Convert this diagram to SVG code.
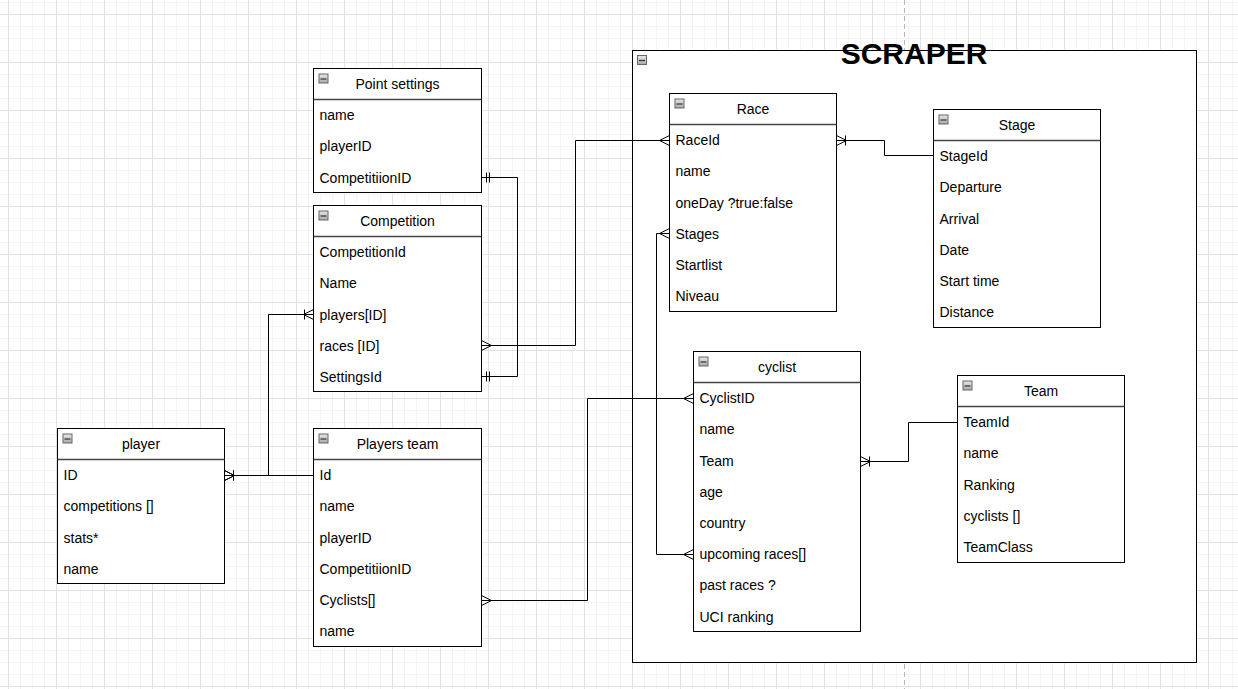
<svg xmlns="http://www.w3.org/2000/svg" width="1238" height="689" viewBox="0 0 1238 689">
<style>
.box{fill:#fff;stroke:#000;stroke-width:1}
.sep{stroke:#444;stroke-width:1.5}
.hd{font-family:"Liberation Sans",Arial,sans-serif;font-size:14px;fill:#000;text-anchor:middle}
.rw{font-family:"Liberation Sans",Arial,sans-serif;font-size:14px;fill:#000}
.edge{fill:none;stroke:#000;stroke-width:1}
.ttl{font-family:"Liberation Sans",Arial,sans-serif;font-size:30px;font-weight:bold;fill:#000;text-anchor:middle}
</style>
<defs>
<pattern id="grid" x="8" y="14" width="48" height="48" patternUnits="userSpaceOnUse">
<path d="M12.5,0V48M24.5,0V48M36.5,0V48M0,12.5H48M0,24.5H48M0,36.5H48" stroke="#f4f4f4" stroke-width="1"/>
<path d="M0.5,0V48M0,0.5H48" stroke="#e2e2e2" stroke-width="1"/>
</pattern>
<linearGradient id="mg" x1="0" y1="0" x2="0" y2="1"><stop offset="0" stop-color="#e8e8e8"/><stop offset="1" stop-color="#a8a8a8"/></linearGradient>
<symbol id="minus" overflow="visible"><rect x="0.5" y="0.5" width="9" height="9" fill="url(#mg)" stroke="#666"/><path d="M2,5.5H8" stroke="#333" stroke-width="1.2"/></symbol>
<marker id="many" markerUnits="userSpaceOnUse" markerWidth="12" markerHeight="12" refX="10" refY="6" orient="auto-start-reverse" overflow="visible"><path d="M0,6L10,1M0,6L10,11" fill="none" stroke="#000" stroke-width="1"/></marker>
<marker id="onemany" markerUnits="userSpaceOnUse" markerWidth="12" markerHeight="12" refX="10" refY="6" orient="auto-start-reverse" overflow="visible"><path d="M0,6L10,1M0,6L10,11M1,1V11" fill="none" stroke="#000" stroke-width="1"/></marker>
<marker id="mandone" markerUnits="userSpaceOnUse" markerWidth="12" markerHeight="12" refX="10" refY="6" orient="auto-start-reverse" overflow="visible"><path d="M5,1V11M2,1V11" fill="none" stroke="#000" stroke-width="1"/></marker>
</defs>
<rect width="1238" height="689" fill="#fff"/>
<rect width="1238" height="689" fill="url(#grid)"/>
<line x1="904.5" y1="0" x2="904.5" y2="689" stroke="#b8b8b8" stroke-dasharray="5,3"/>

<g id="scraper">
<rect class="box" x="632.5" y="50.5" width="564" height="612"/>
<use href="#minus" x="637" y="55"/>
<text class="ttl" x="914" y="64">SCRAPER</text>
</g>

<g id="point-settings" transform="translate(313.5,68.5)">
<rect class="box" width="168" height="124"/><line class="sep" x1="0" y1="31" x2="168" y2="31"/>
<use href="#minus" x="5" y="5"/>
<text class="hd" x="84" y="20.5">Point settings</text>
<text class="rw" x="6" y="51.6">name</text>
<text class="rw" x="6" y="82.8">playerID</text>
<text class="rw" x="6" y="114">CompetitiionID</text>
</g>

<g id="competition" transform="translate(313.5,205.5)">
<rect class="box" width="168" height="186"/><line class="sep" x1="0" y1="31" x2="168" y2="31"/>
<use href="#minus" x="5" y="5"/>
<text class="hd" x="84" y="20.5">Competition</text>
<text class="rw" x="6" y="51.6">CompetitionId</text>
<text class="rw" x="6" y="82.8">Name</text>
<text class="rw" x="6" y="114">players[ID]</text>
<text class="rw" x="6" y="145.2">races [ID]</text>
<text class="rw" x="6" y="176.4">SettingsId</text>
</g>

<g id="players-team" transform="translate(313.5,428.5)">
<rect class="box" width="168" height="218"/><line class="sep" x1="0" y1="31" x2="168" y2="31"/>
<use href="#minus" x="5" y="5"/>
<text class="hd" x="84" y="20.5">Players team</text>
<text class="rw" x="6" y="51.6">Id</text>
<text class="rw" x="6" y="82.8">name</text>
<text class="rw" x="6" y="114">playerID</text>
<text class="rw" x="6" y="145.2">CompetitiionID</text>
<text class="rw" x="6" y="176.4">Cyclists[]</text>
<text class="rw" x="6" y="207.6">name</text>
</g>

<g id="player" transform="translate(57.5,428.5)">
<rect class="box" width="167" height="155"/><line class="sep" x1="0" y1="31" x2="167" y2="31"/>
<use href="#minus" x="5" y="5"/>
<text class="hd" x="83.5" y="20.5">player</text>
<text class="rw" x="6" y="51.6">ID</text>
<text class="rw" x="6" y="82.8">competitions []</text>
<text class="rw" x="6" y="114">stats*</text>
<text class="rw" x="6" y="145.2">name</text>
</g>

<g id="race" transform="translate(669.5,93.5)">
<rect class="box" width="167" height="218"/><line class="sep" x1="0" y1="31" x2="167" y2="31"/>
<use href="#minus" x="5" y="5"/>
<text class="hd" x="83.5" y="20.5">Race</text>
<text class="rw" x="6" y="51.6">RaceId</text>
<text class="rw" x="6" y="82.8">name</text>
<text class="rw" x="6" y="114">oneDay ?true:false</text>
<text class="rw" x="6" y="145.2">Stages</text>
<text class="rw" x="6" y="176.4">Startlist</text>
<text class="rw" x="6" y="207.6">Niveau</text>
</g>

<g id="stage" transform="translate(933.5,109.5)">
<rect class="box" width="167" height="218"/><line class="sep" x1="0" y1="31" x2="167" y2="31"/>
<use href="#minus" x="5" y="5"/>
<text class="hd" x="83.5" y="20.5">Stage</text>
<text class="rw" x="6" y="51.6">StageId</text>
<text class="rw" x="6" y="82.8">Departure</text>
<text class="rw" x="6" y="114">Arrival</text>
<text class="rw" x="6" y="145.2">Date</text>
<text class="rw" x="6" y="176.4">Start time</text>
<text class="rw" x="6" y="207.6">Distance</text>
</g>

<g id="cyclist" transform="translate(693.5,351.5)">
<rect class="box" width="167" height="280"/><line class="sep" x1="0" y1="31" x2="167" y2="31"/>
<use href="#minus" x="5" y="5"/>
<text class="hd" x="83.5" y="20.5">cyclist</text>
<text class="rw" x="6" y="51.6">CyclistID</text>
<text class="rw" x="6" y="82.8">name</text>
<text class="rw" x="6" y="114">Team</text>
<text class="rw" x="6" y="145.2">age</text>
<text class="rw" x="6" y="176.4">country</text>
<text class="rw" x="6" y="207.6">upcoming races[]</text>
<text class="rw" x="6" y="238.8">past races ?</text>
<text class="rw" x="6" y="270">UCI ranking</text>
</g>

<g id="team" transform="translate(957.5,375.5)">
<rect class="box" width="167" height="187"/><line class="sep" x1="0" y1="31" x2="167" y2="31"/>
<use href="#minus" x="5" y="5"/>
<text class="hd" x="83.5" y="20.5">Team</text>
<text class="rw" x="6" y="51.6">TeamId</text>
<text class="rw" x="6" y="82.8">name</text>
<text class="rw" x="6" y="114">Ranking</text>
<text class="rw" x="6" y="145.2">cyclists []</text>
<text class="rw" x="6" y="176.4">TeamClass</text>
</g>

<g id="connectors">
<path class="edge" d="M481.5,177.5H517.5V376.5H481.5" marker-start="url(#mandone)" marker-end="url(#mandone)"/>
<path class="edge" d="M481.5,345.5H575.5V140.5H669.5" marker-start="url(#many)" marker-end="url(#many)"/>
<path class="edge" d="M224.5,475.5H313.5" marker-start="url(#onemany)"/>
<path class="edge" d="M224.5,475.5H268.5V314.5H313.5" marker-start="url(#onemany)" marker-end="url(#onemany)"/>
<path class="edge" d="M836.5,140.5H884.5V155.5H933.5" marker-start="url(#onemany)"/>
<path class="edge" d="M669.5,233.5H656.5V554.5H693.5" marker-start="url(#many)" marker-end="url(#many)"/>
<path class="edge" d="M481.5,600.5H587.5V398.5H693.5" marker-start="url(#many)" marker-end="url(#many)"/>
<path class="edge" d="M860.5,461.5H908.5V422.5H957.5" marker-start="url(#onemany)"/>
</g>
</svg>
